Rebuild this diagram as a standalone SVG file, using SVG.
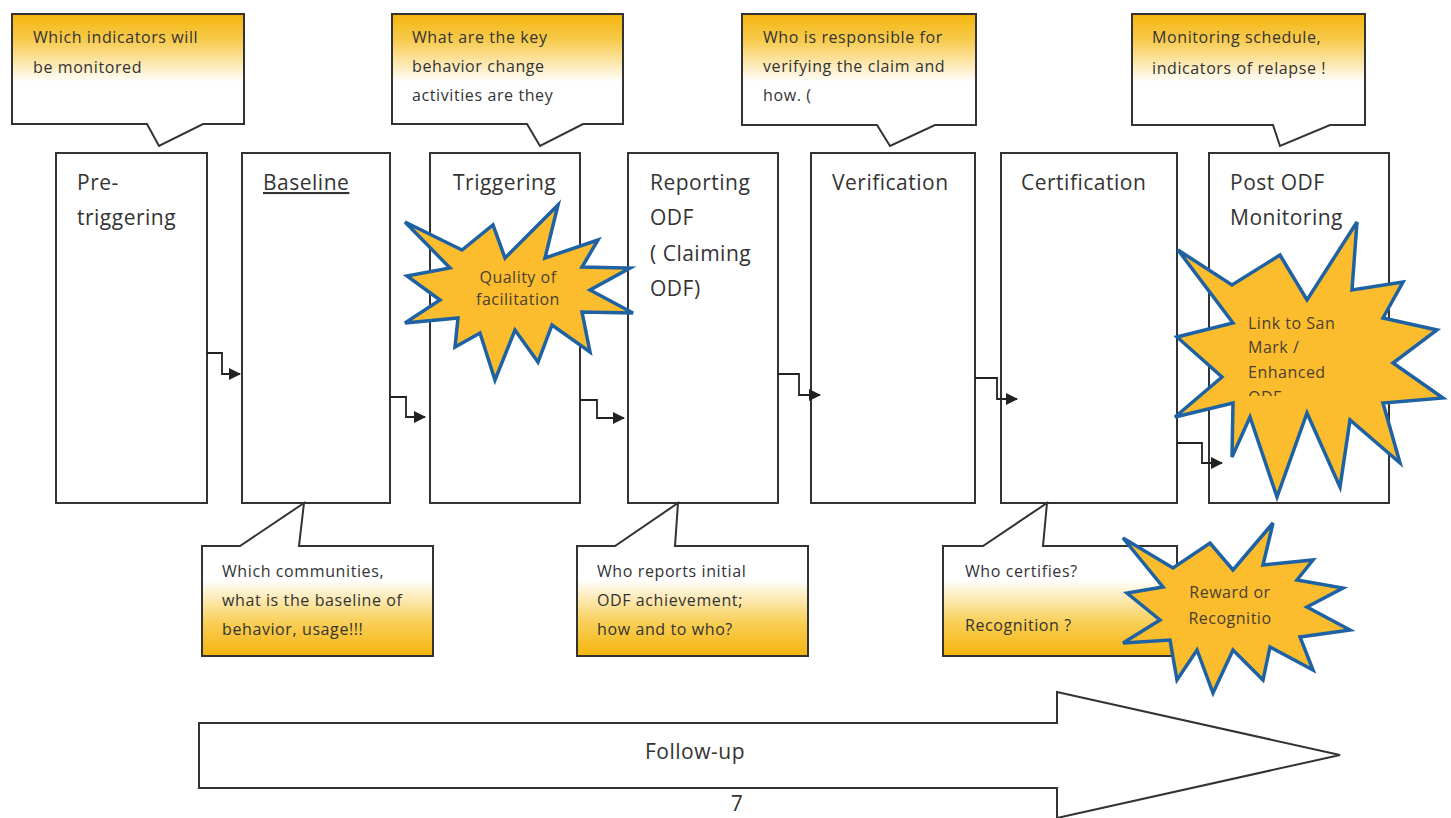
<svg xmlns="http://www.w3.org/2000/svg" width="1451" height="818" viewBox="0 0 1451 818">
<defs>
<linearGradient id="gTop" x1="0" y1="0" x2="0" y2="1">
<stop offset="0" stop-color="#f4b40c"/>
<stop offset="0.2" stop-color="#f8cb4e"/>
<stop offset="0.52" stop-color="#ffffff"/>
<stop offset="1" stop-color="#ffffff"/>
</linearGradient>
<linearGradient id="gBot" x1="0" y1="0" x2="0" y2="1">
<stop offset="0" stop-color="#ffffff"/>
<stop offset="0.5" stop-color="#ffffff"/>
<stop offset="0.78" stop-color="#f9cf58"/>
<stop offset="1" stop-color="#f4b40c"/>
</linearGradient>
<marker id="arr" viewBox="0 0 12 12" refX="11" refY="6" markerWidth="12" markerHeight="12" markerUnits="userSpaceOnUse" orient="auto">
<path d="M0,0 L12,6 L0,12 z" fill="#222"/>
</marker>
<clipPath id="clipLink"><rect x="1170" y="200" width="280" height="196"/></clipPath>
</defs>
<style>
.box{fill:#fff;stroke:#333;stroke-width:2}
.call{stroke:#333;stroke-width:2;stroke-linejoin:miter}
.lbl{font-family:"Open Sans","Liberation Sans",sans-serif;font-size:21px;letter-spacing:0.5px;fill:#333}
.sm{font-family:"Open Sans","Liberation Sans",sans-serif;font-size:16px;letter-spacing:0.6px;fill:#333}
.star{fill:#fbbd2e;stroke:#1f62a3;stroke-width:3.5;stroke-linejoin:miter}
.st{font-family:"Open Sans","Liberation Sans",sans-serif;font-size:16px;letter-spacing:0.5px;fill:#4a4030}
.con{fill:none;stroke:#222;stroke-width:1.8}
</style>
<rect width="1451" height="818" fill="#fff"/>

<g id="callout-indicators">
<path class="call" fill="url(#gTop)" d="M12,14 H244 V124 H203 L159,146 L147,124 H12 Z"/>
<text class="sm" x="33" y="43">Which indicators will</text>
<text class="sm" x="33" y="73">be monitored</text>
</g>
<g id="callout-behavior">
<path class="call" fill="url(#gTop)" d="M392,14 H623 V124 H583 L540,146 L527,124 H392 Z"/>
<text class="sm" x="412" y="43">What are the key</text>
<text class="sm" x="412" y="72">behavior change</text>
<text class="sm" x="412" y="101">activities are they</text>
</g>
<g id="callout-verify">
<path class="call" fill="url(#gTop)" d="M742,14 H976 V125 H935 L890,146 L877,125 H742 Z"/>
<text class="sm" x="763" y="43">Who is responsible for</text>
<text class="sm" x="763" y="72">verifying the claim and</text>
<text class="sm" x="763" y="101">how. (</text>
</g>
<g id="callout-schedule">
<path class="call" fill="url(#gTop)" d="M1132,14 H1365 V125 H1330 L1280,146 L1273,125 H1132 Z"/>
<text class="sm" x="1152" y="43">Monitoring schedule,</text>
<text class="sm" x="1152" y="74">indicators of relapse !</text>
</g>

<g id="box-pretriggering">
<rect class="box" x="56" y="153" width="151" height="350"/>
<text class="lbl" x="77" y="190">Pre-</text>
<text class="lbl" x="77" y="225">triggering</text>
</g>
<g id="box-baseline">
<rect class="box" x="242" y="153" width="148" height="350"/>
<text class="lbl" x="263" y="190" text-decoration="underline">Baseline</text>
</g>
<g id="box-triggering">
<rect class="box" x="430" y="153" width="150" height="350"/>
<text class="lbl" x="453" y="190">Triggering</text>
</g>
<g id="box-reporting">
<rect class="box" x="628" y="153" width="150" height="350"/>
<text class="lbl" x="650" y="190">Reporting</text>
<text class="lbl" x="650" y="225">ODF</text>
<text class="lbl" x="650" y="261">( Claiming</text>
<text class="lbl" x="650" y="296">ODF)</text>
</g>
<g id="box-verification">
<rect class="box" x="811" y="153" width="164" height="350"/>
<text class="lbl" x="832" y="190">Verification</text>
</g>
<g id="box-certification">
<rect class="box" x="1001" y="153" width="176" height="350"/>
<text class="lbl" x="1021" y="190">Certification</text>
</g>
<g id="box-post">
<rect class="box" x="1209" y="153" width="180" height="350"/>
<text class="lbl" x="1230" y="190">Post ODF</text>
<text class="lbl" x="1230" y="225">Monitoring</text>
</g>

<g id="connectors">
<path class="con" marker-end="url(#arr)" d="M207,353 H222 V374 H240"/>
<path class="con" marker-end="url(#arr)" d="M390,397 H406 V417 H425"/>
<path class="con" marker-end="url(#arr)" d="M580,400 H597 V418 H624"/>
<path class="con" marker-end="url(#arr)" d="M778,374 H799 V395 H820"/>
<path class="con" marker-end="url(#arr)" d="M975,378 H997 V399 H1017"/>
<path class="con" marker-end="url(#arr)" d="M1177,443 H1202 V463 H1222"/>
</g>

<g id="callout-communities">
<path class="call" fill="url(#gBot)" d="M202,546 H240 L304,503 L299,546 H433 V656 H202 Z"/>
<text class="sm" x="222" y="577">Which communities,</text>
<text class="sm" x="222" y="606">what is the baseline of</text>
<text class="sm" x="222" y="635">behavior, usage!!!</text>
</g>
<g id="callout-reports">
<path class="call" fill="url(#gBot)" d="M577,546 H615 L678,503 L675,546 H808 V656 H577 Z"/>
<text class="sm" x="597" y="577">Who reports initial</text>
<text class="sm" x="597" y="606">ODF achievement;</text>
<text class="sm" x="597" y="635">how and to who?</text>
</g>
<g id="callout-certifies">
<path class="call" fill="url(#gBot)" d="M943,546 H983 L1047,503 L1043,546 H1177 V656 H943 Z"/>
<text class="sm" x="965" y="577">Who certifies?</text>
<text class="sm" x="965" y="631">Recognition ?</text>
</g>

<g id="star-quality">
<path class="star" d="M405,222 L462,250 L493,225 L505,258 L558,205 L545,258 L598,240 L582,267 L630,268 L590,290 L633,313 L582,312 L590,352 L552,325 L538,362 L515,330 L495,380 L480,333 L455,347 L458,318 L405,323 L440,300 L407,276 L450,268 Z"/>
<text class="st" x="518" y="283" text-anchor="middle">Quality of</text>
<text class="st" x="518" y="305" text-anchor="middle">facilitation</text>
</g>

<g id="star-link">
<path class="star" d="M1178,250 L1232,285 L1280,255 L1307,300 L1357,222 L1352,290 L1403,282 L1383,318 L1437,330 L1393,363 L1443,398 L1383,403 L1400,463 L1350,420 L1340,487 L1307,413 L1277,497 L1250,417 L1232,457 L1233,403 L1175,417 L1222,377 L1177,337 L1233,323 Z"/>
<g clip-path="url(#clipLink)">
<text class="st" x="1248" y="329" font-size="17">Link to San</text>
<text class="st" x="1248" y="353" font-size="17">Mark /</text>
<text class="st" x="1248" y="378" font-size="17">Enhanced</text>
<text class="st" x="1248" y="403" font-size="17">ODF</text>
</g>
</g>

<g id="star-reward">
<path class="star" d="M1123,538 L1173,568 L1210,543 L1233,570 L1273,523 L1263,565 L1313,560 L1297,580 L1343,588 L1307,607 L1350,630 L1300,637 L1313,670 L1270,647 L1263,680 L1233,650 L1213,693 L1197,650 L1177,680 L1170,640 L1123,643 L1160,620 L1127,593 L1163,587 Z"/>
<text class="st" x="1230" y="598" text-anchor="middle" font-size="17">Reward or</text>
<text class="st" x="1230" y="624" text-anchor="middle" font-size="17">Recognitio</text>
</g>

<g id="followup-arrow">
<path fill="#fff" stroke="#333" stroke-width="2" d="M199,723 H1057 V692 L1340,755 L1057,818 V788 H199 Z"/>
<text class="lbl" x="695" y="759" text-anchor="middle" font-size="23">Follow-up</text>
</g>
<text class="lbl" x="737" y="811" text-anchor="middle" font-size="20">7</text>
</svg>
